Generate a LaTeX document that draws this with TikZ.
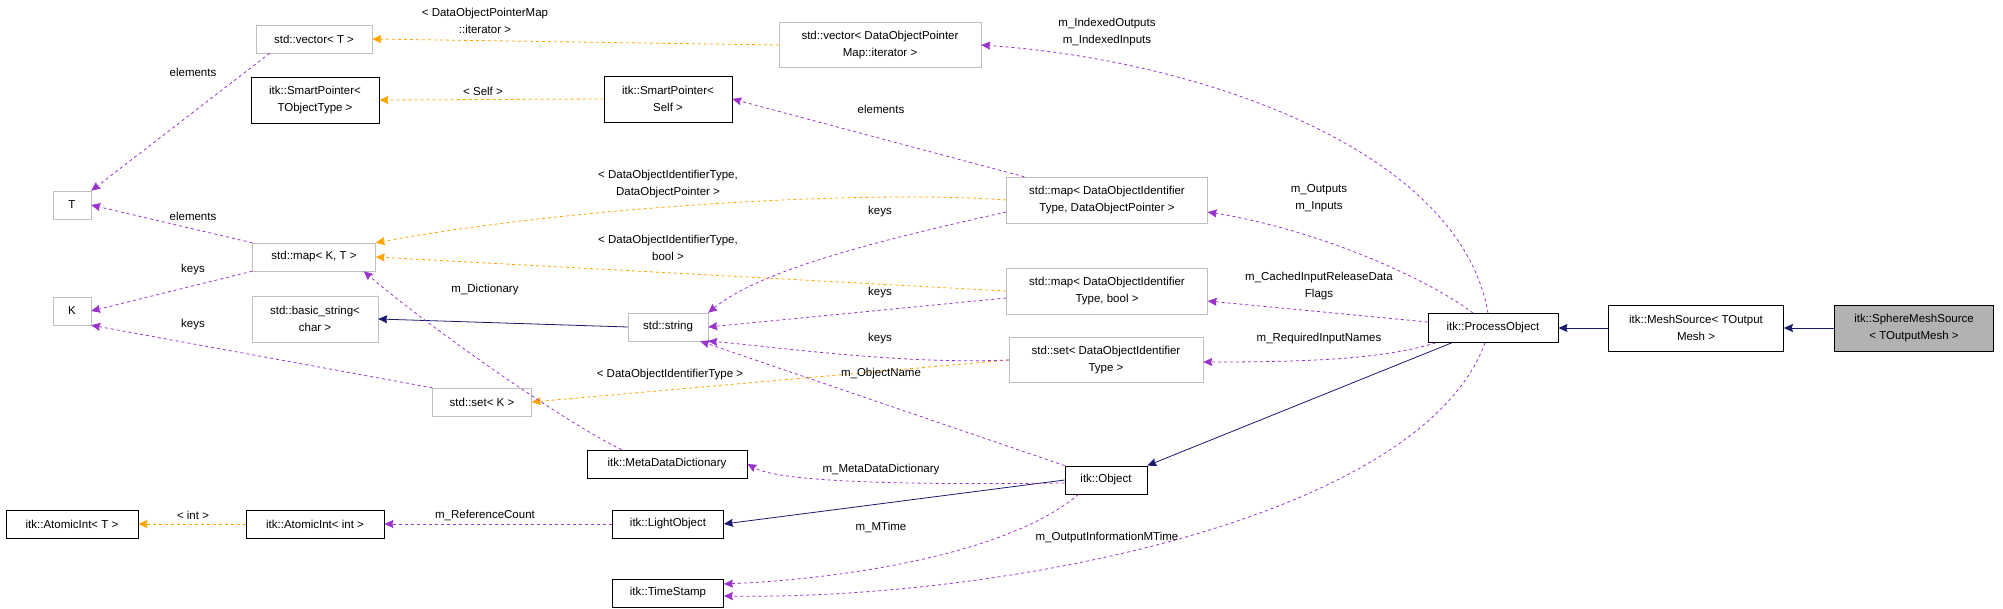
\documentclass[tikz,border=0pt]{standalone}
\usepackage{fontspec}
\setmainfont{Liberation Sans}
\usetikzlibrary{arrows, arrows.meta, positioning, calc}

\definecolor{dep}{HTML}{9A32CD}
\definecolor{tpl}{HTML}{FFA500}
\definecolor{inh}{HTML}{191970}

\begin{document}
\begin{tikzpicture}[x=1pt, y=-1pt, >={Stealth[length=9pt, width=8pt, inset=1pt]},
    cls/.style={draw=black, thick, fill=white, align=center, inner sep=1pt, font=\fontsize{11.5}{17}\selectfont},
    tcls/.style={cls, draw=gray!50, thin},
    lbl/.style={align=center, inner sep=0pt, font=\fontsize{11.5}{17}\selectfont},
    pdep/.style={->, draw=dep, dashed, thick},
    odep/.style={->, draw=tpl, dashed, thick},
    nbase/.style={->, draw=inh, thick}]
    \useasboundingbox (0,0) rectangle (2003,609);

    % Klassen links
    \node[tcls, minimum width=116pt, minimum height=28pt] (vec) at (314,39) {std::vector< T >};
    \node[tcls, minimum width=202pt, minimum height=45pt] (vecdopm) at (880,45) {std::vector< DataObjectPointer\\Map::iterator >};
    \node[cls, minimum width=128pt, minimum height=46pt] (sptype) at (315,100) {itk::SmartPointer<\\TObjectType >};
    \node[cls, minimum width=128pt, minimum height=46pt] (spself) at (668,99) {itk::SmartPointer<\\Self >};
    \node[tcls, minimum width=38pt, minimum height=28pt] (t) at (72,205) {T};
    \node[tcls, minimum width=123pt, minimum height=28pt] (map) at (314,257) {std::map< K, T >};
    \node[tcls, minimum width=38pt, minimum height=28pt] (k) at (72,311) {K};
    \node[tcls, minimum width=126pt, minimum height=46pt] (bstr) at (315,319) {std::basic\_string<\\char >};
    \node[tcls, minimum width=80pt, minimum height=28pt] (str) at (668,327) {std::string};
    \node[tcls, minimum width=99pt, minimum height=28pt] (setk) at (482,402) {std::set< K >};
    \node[cls, minimum width=160pt, minimum height=28pt] (mdd) at (667,464) {itk::MetaDataDictionary};
    \node[cls, minimum width=132pt, minimum height=28pt] (aint) at (72,524) {itk::AtomicInt< T >};
    \node[cls, minimum width=138pt, minimum height=28pt] (aintint) at (315,524) {itk::AtomicInt< int >};
    \node[cls, minimum width=111pt, minimum height=28pt] (light) at (668,524) {itk::LightObject};
    \node[cls, minimum width=111pt, minimum height=28pt] (stamp) at (668,593) {itk::TimeStamp};

    % Klassen rechts
    \node[tcls, minimum width=201pt, minimum height=46pt] (mapdop) at (1107,200) {std::map< DataObjectIdentifier\\Type, DataObjectPointer >};
    \node[tcls, minimum width=201pt, minimum height=46pt] (mapbool) at (1107,291) {std::map< DataObjectIdentifier\\Type, bool >};
    \node[tcls, minimum width=194pt, minimum height=45pt] (setdoi) at (1106,360) {std::set< DataObjectIdentifier\\Type >};
    \node[cls, minimum width=82pt, minimum height=28pt] (obj) at (1106,480) {itk::Object};
    \node[cls, minimum width=130pt, minimum height=29pt] (po) at (1493,328) {itk::ProcessObject};
    \node[cls, minimum width=175pt, minimum height=46pt] (mesh) at (1696,328) {itk::MeshSource< TOutput\\Mesh >};
    \node[cls, fill=gray!60, minimum width=159pt, minimum height=46pt] (sphere) at (1914,328) {itk::SphereMeshSource\\< TOutputMesh >};

    % Vererbung
    \draw[nbase] (sphere) -- (mesh);
    \draw[nbase] (mesh) -- (po);
    \draw[nbase] (po.south west) ++(24,0) -- (obj.north east);
    \draw[nbase] (obj.west) -- (light.east);
    \draw[nbase] (str.west) -- (bstr.east);

    % Template-Argumente
    \draw[odep] (vecdopm.west) -- (vec.east);
    \draw[odep] (spself.west) -- (sptype.east);
    \draw[odep] (mapdop.west) .. controls (880,190) and (580,205) .. (map.north east);
    \draw[odep] (mapbool.west) -- (map.east);
    \draw[odep] (setdoi.west) -- (setk.east);
    \draw[odep] (aintint.west) -- (aint.east);

    % Attribute
    \draw[pdep] (vec.south west) ++(14,0) -- (t.north east);
    \draw[pdep] (map.north west) -- (t.east);
    \draw[pdep] (map.south west) -- (k.east);
    \draw[pdep] (setk.north west) -- (k.south east);
    \draw[pdep] ($(mapdop.north west)+(18,0)$) -- (spself.east);
    \draw[pdep] ($(mapdop.west)+(0,12)$) .. controls (880,240) and (760,270) .. (str.north east);
    \draw[pdep] ($(mapbool.west)+(0,7)$) -- (str.east);
    \draw[pdep] (setdoi.west) .. controls (900,365) and (760,345) .. (str.south east);
    \draw[pdep] (obj.north west) -- ($(str.south east)+(-8,0)$);
    \draw[pdep] ($(mdd.north west)+(35,0)$) .. controls (560,420) and (420,320) .. ($(map.south east)+(-12,0)$);
    \draw[pdep] ($(obj.west)+(0,3)$) .. controls (900,485) and (780,482) .. (mdd.east);
    \draw[pdep] (light.west) -- (aintint.east);
    \draw[pdep] ($(obj.south west)+(14,0)$) .. controls (1000,560) and (820,580) .. ($(stamp.east)+(0,-9)$);
    \draw[pdep] ($(po.south)+(-8,0)$) .. controls (1420,520) and (1000,600) .. ($(stamp.east)+(0,3)$);
    \draw[pdep] ($(po.north)+(-5,0)$) .. controls (1460,150) and (1200,60) .. (vecdopm.east);
    \draw[pdep] ($(po.north)+(-20,0)$) .. controls (1430,280) and (1320,230) .. ($(mapdop.east)+(0,12)$);
    \draw[pdep] ($(po.west)+(0,-6)$) -- ($(mapbool.east)+(0,10)$);
    \draw[pdep] ($(po.south west)+(8,0)$) .. controls (1380,360) and (1300,362) .. ($(setdoi.east)+(0,2)$);

    % Beschriftungen
    \node[lbl] (l1) at (485,21) {< DataObjectPointerMap\\::iterator >};
    \node[lbl] (l2) at (193,72) {elements};
    \node[lbl] (l3) at (483,91) {< Self >};
    \node[lbl] (l4) at (881,109) {elements};
    \node[lbl] (l5) at (668,184) {< DataObjectIdentifierType,\\DataObjectPointer >};
    \node[lbl] (l6) at (880,212) {keys};
    \node[lbl] (l7) at (193,216) {elements};
    \node[lbl] (l8) at (668,248) {< DataObjectIdentifierType,\\bool >};
    \node[lbl] (l9) at (193,270) {keys};
    \node[lbl] (l10) at (485,290) {m\_Dictionary};
    \node[lbl] (l11) at (880,293) {keys};
    \node[lbl] (l12) at (193,325) {keys};
    \node[lbl] (l13) at (880,339) {keys};
    \node[lbl] (l14) at (670,375) {< DataObjectIdentifierType >};
    \node[lbl] (l15) at (881,374) {m\_ObjectName};
    \node[lbl] (l16) at (881,470) {m\_MetaDataDictionary};
    \node[lbl] (l17) at (193,515) {< int >};
    \node[lbl] (l18) at (485,515) {m\_ReferenceCount};
    \node[lbl] (l19) at (881,527) {m\_MTime};
    \node[lbl] (l20) at (1107,32) {m\_IndexedOutputs\\m\_IndexedInputs};
    \node[lbl] (l21) at (1319,198) {m\_Outputs\\m\_Inputs};
    \node[lbl] (l22) at (1319,286) {m\_CachedInputReleaseData\\Flags};
    \node[lbl] (l23) at (1319,339) {m\_RequiredInputNames};
    \node[lbl] (l24) at (1107,538) {m\_OutputInformationMTime};
\end{tikzpicture}
\end{document}
